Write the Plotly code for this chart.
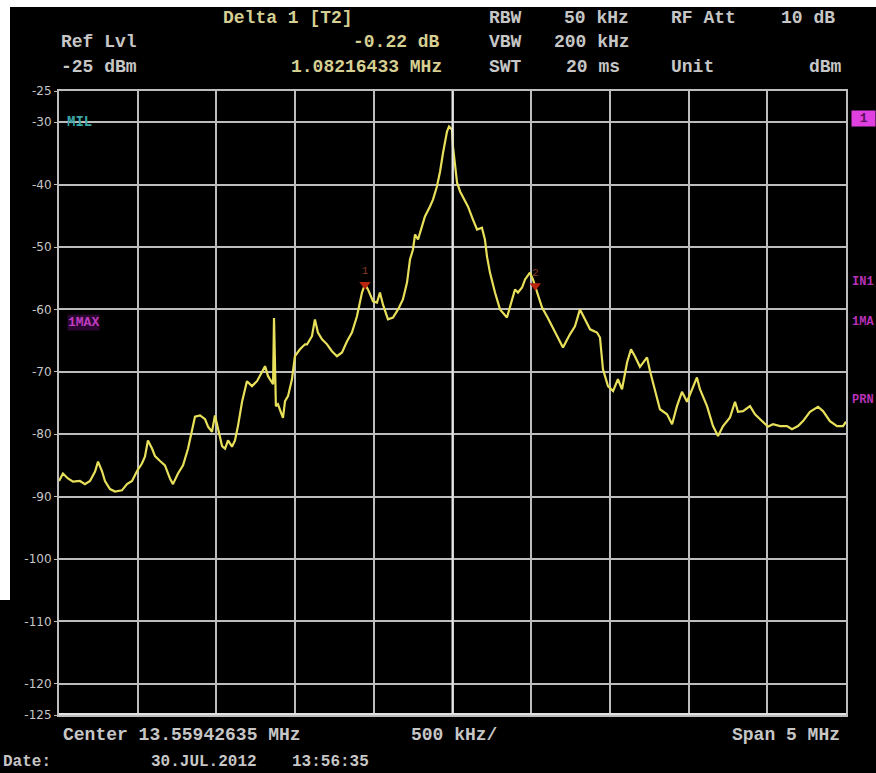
import plotly.graph_objects as go

# Analyzer settings
center_mhz = 13.55942635
span_mhz = 5.0
ref_level = -25
bottom_level = -125

# Trace 1 (max hold): frequency offset from centre (MHz) and level (dBm)
offset_mhz = [
    -2.500, -2.475, -2.443, -2.411, -2.367, -2.335, -2.303, -2.271, -2.252, -2.227,
    -2.208, -2.176, -2.144, -2.100, -2.068, -2.036, -2.004, -1.973, -1.954, -1.935,
    -1.909, -1.890, -1.858, -1.827, -1.795, -1.776, -1.744, -1.712, -1.680, -1.655,
    -1.636, -1.604, -1.572, -1.553, -1.528, -1.509, -1.490, -1.464, -1.445, -1.426,
    -1.401, -1.382, -1.363, -1.337, -1.306, -1.274, -1.242, -1.210, -1.191, -1.172,
    -1.147, -1.140, -1.134, -1.128, -1.122, -1.109, -1.077, -1.064, -1.045, -1.020,
    -1.001, -0.969, -0.937, -0.924, -0.893, -0.874, -0.855, -0.829, -0.797, -0.766,
    -0.734, -0.702, -0.670, -0.639, -0.607, -0.575, -0.556, -0.537, -0.505, -0.480,
    -0.461, -0.442, -0.410, -0.378, -0.346, -0.315, -0.289, -0.270, -0.251, -0.238,
    -0.219, -0.194, -0.175, -0.143, -0.124, -0.099, -0.079, -0.060, -0.035, -0.022,
    -0.003, 0.003, 0.016, 0.029, 0.048, 0.067, 0.098, 0.130, 0.156, 0.187,
    0.206, 0.219, 0.238, 0.270, 0.302, 0.346, 0.378, 0.397, 0.416, 0.442,
    0.461, 0.492, 0.511, 0.526, 0.543, 0.569, 0.600, 0.632, 0.664, 0.702,
    0.746, 0.778, 0.810, 0.842, 0.874, 0.918, 0.937, 0.956, 0.988, 1.020,
    1.051, 1.077, 1.109, 1.134, 1.159, 1.191, 1.236, 1.255, 1.287, 1.318,
    1.363, 1.395, 1.426, 1.458, 1.490, 1.522, 1.553, 1.572, 1.617, 1.655,
    1.687, 1.719, 1.763, 1.795, 1.814, 1.846, 1.890, 1.922, 1.966, 2.004,
    2.036, 2.081, 2.125, 2.157, 2.195, 2.227, 2.271, 2.322, 2.354, 2.398,
    2.443, 2.481, 2.500,
]
level_dbm = [
    -87.5, -86.3, -87.1, -87.6, -87.5, -88.0, -87.5, -86.0, -84.4, -85.9,
    -87.5, -88.8, -89.2, -89.0, -88.0, -87.5, -85.9, -84.7, -83.6, -81.0,
    -82.3, -83.5, -84.3, -85.0, -87.1, -88.0, -86.3, -85.0, -82.3, -79.5,
    -77.2, -77.0, -77.6, -78.8, -79.6, -77.0, -79.1, -81.9, -82.3, -81.0,
    -82.0, -81.0, -78.7, -74.8, -71.5, -72.3, -71.5, -69.9, -69.1, -70.7,
    -71.6, -72.0, -61.4, -72.3, -75.5, -75.2, -77.4, -74.7, -73.9, -71.2,
    -67.5, -66.4, -65.6, -65.6, -64.3, -61.6, -63.7, -64.8, -65.6, -66.7,
    -67.5, -66.9, -65.1, -63.7, -61.1, -57.3, -56.0, -56.8, -58.7, -58.9,
    -57.3, -59.2, -61.6, -61.3, -60.0, -58.4, -55.7, -52.0, -50.4, -48.0,
    -48.8, -46.7, -45.1, -43.5, -42.4, -40.3, -37.9, -34.9, -31.5, -30.7,
    -31.2, -33.9, -37.1, -39.7, -41.1, -42.1, -43.5, -45.6, -47.2, -46.9,
    -48.8, -51.5, -54.1, -57.3, -60.0, -61.3, -58.4, -56.8, -57.3, -56.5,
    -55.2, -54.1, -55.2, -56.3, -57.9, -59.7, -61.1, -62.7, -64.3, -66.1,
    -64.0, -62.7, -60.0, -61.6, -63.2, -63.7, -64.5, -69.6, -72.3, -73.1,
    -71.2, -72.8, -68.5, -66.4, -67.5, -69.2, -67.7, -69.9, -72.8, -76.0,
    -76.8, -78.4, -75.5, -73.2, -74.8, -72.8, -70.9, -72.8, -75.5, -78.7,
    -80.3, -78.7, -77.3, -74.8, -76.4, -76.3, -75.5, -76.8, -77.9, -78.8,
    -78.4, -78.7, -78.7, -79.2, -78.7, -77.9, -76.4, -75.6, -76.3, -77.9,
    -78.7, -78.7, -78.0,
]

# Delta marker readout
marker1_offset = -0.556
marker1_level = -56.00
delta_mhz = 1.08216433
delta_db = -0.22
marker_names = ["1", "2"]
marker_freq = [center_mhz + marker1_offset, center_mhz + marker1_offset + delta_mhz]
marker_level = [marker1_level, marker1_level + delta_db]

# Y-axis labels
y_ticks = [-25, -30, -40, -50, -60, -70, -80, -90, -100, -110, -120, -125]

freq_mhz = [center_mhz + o for o in offset_mhz]
f_lo = center_mhz - span_mhz / 2
f_hi = center_mhz + span_mhz / 2

GRID = "#bdbdbd"
TXT = "#c6c6c6"
KHAKI = "#d6cf92"
MONO = "Liberation Mono, Courier New, monospace"

fig = go.Figure()

fig.add_trace(go.Scatter(
    x=freq_mhz, y=level_dbm, mode="lines",
    line=dict(color="#e8e05a", width=2.2),
    hoverinfo="skip", showlegend=False,
))

fig.add_trace(go.Scatter(
    x=marker_freq, y=marker_level, mode="markers+text",
    marker=dict(symbol="triangle-down", size=10, color="#b8240e"),
    text=marker_names, textposition="top center",
    textfont=dict(family=MONO, size=11, color="#8a3a20"),
    hoverinfo="skip", showlegend=False,
))

fig.update_layout(
    width=876, height=773,
    margin=dict(l=59, r=30, t=91, b=58),
    paper_bgcolor="black", plot_bgcolor="black",
    xaxis=dict(
        range=[f_lo, f_hi], tick0=f_lo, dtick=0.5,
        showgrid=True, gridcolor=GRID, gridwidth=2,
        showticklabels=False, zeroline=False,
        showline=True, mirror=True, linecolor=GRID, linewidth=2,
    ),
    yaxis=dict(
        range=[bottom_level, ref_level],
        tickvals=y_ticks, ticktext=[str(v) for v in y_ticks],
        showgrid=True, gridcolor=GRID, gridwidth=2,
        ticks="outside", ticklen=3, tickcolor=GRID, tickwidth=1,
        tickfont=dict(family="DejaVu Sans, sans-serif", size=12, color=TXT),
        zeroline=False,
        showline=True, mirror=True, linecolor=GRID, linewidth=2,
    ),
)

# brighter centre line and heavier bottom edge of the graticule
fig.add_shape(type="line", xref="x", yref="y", x0=center_mhz, x1=center_mhz,
              y0=bottom_level, y1=ref_level, line=dict(color="#e6e6e6", width=2))
fig.add_shape(type="line", xref="x", yref="y", x0=f_lo, x1=f_hi,
              y0=bottom_level, y1=bottom_level, line=dict(color="#e2e2e2", width=4))


def ax(px):
    return (px - 59) / 787


def ay(py):
    return (715 - py) / 624


# white border of the screen capture (top edge and upper left edge)
fig.add_shape(type="rect", xref="paper", yref="paper", x0=ax(0), x1=ax(876),
              y0=ay(7), y1=ay(0), fillcolor="white", line_width=0, layer="above")
fig.add_shape(type="rect", xref="paper", yref="paper", x0=ax(0), x1=ax(10),
              y0=ay(600), y1=ay(0), fillcolor="white", line_width=0, layer="above")


def label(text, px, py, anchor="left", color=TXT, size=18, family=MONO, bold=True, bg=None):
    t = f"<b>{text}</b>" if bold else text
    fig.add_annotation(
        text=t, x=ax(px), y=ay(py), xref="paper", yref="paper",
        xanchor=anchor, yanchor="middle", showarrow=False,
        font=dict(family=family, size=size, color=color),
        bgcolor=bg, borderpad=0,
    )


# header block
label("Delta 1 [T2]", 222, 18, color=KHAKI)
label(f"{delta_db:.2f} dB", 441, 42, anchor="right", color=KHAKI)
label(f"{delta_mhz:.8f} MHz", 443, 67, anchor="right", color=KHAKI)
label("Ref Lvl", 60, 42)
label(f"{ref_level} dBm", 60, 67)
label("RBW", 488, 18)
label("50 kHz", 563, 18)
label("RF Att", 670, 18)
label("10 dB", 780, 18)
label("VBW", 488, 42)
label("200 kHz", 553, 42)
label("SWT", 488, 67)
label("20 ms", 565, 67)
label("Unit", 670, 67)
label("dBm", 843, 67, anchor="right")

# footer
label(f"Center {center_mhz:.8f} MHz", 62, 735)
label("500 kHz/", 410, 735)
label("Span 5 MHz", 841, 735, anchor="right")
label("Date:", 2, 762, size=16)
label("30.JUL.2012", 150, 762, size=16)
label("13:56:35", 291, 762, size=16)

# screen annotations
label("MIL", 66, 122, color="#3aa6a6", size=14)
label("1MAX", 67, 322, color="#c23cc2", size=13, bg="#2a0630")
label("&nbsp;1&nbsp;", 851, 119, color="#5a105a", size=13, bg="#e040e0")
label("IN1", 851, 282, color="#b832b8", size=12)
label("1MA", 851, 322, color="#b832b8", size=12)
label("PRN", 851, 400, color="#b832b8", size=12)

fig.write_html("out.html")
